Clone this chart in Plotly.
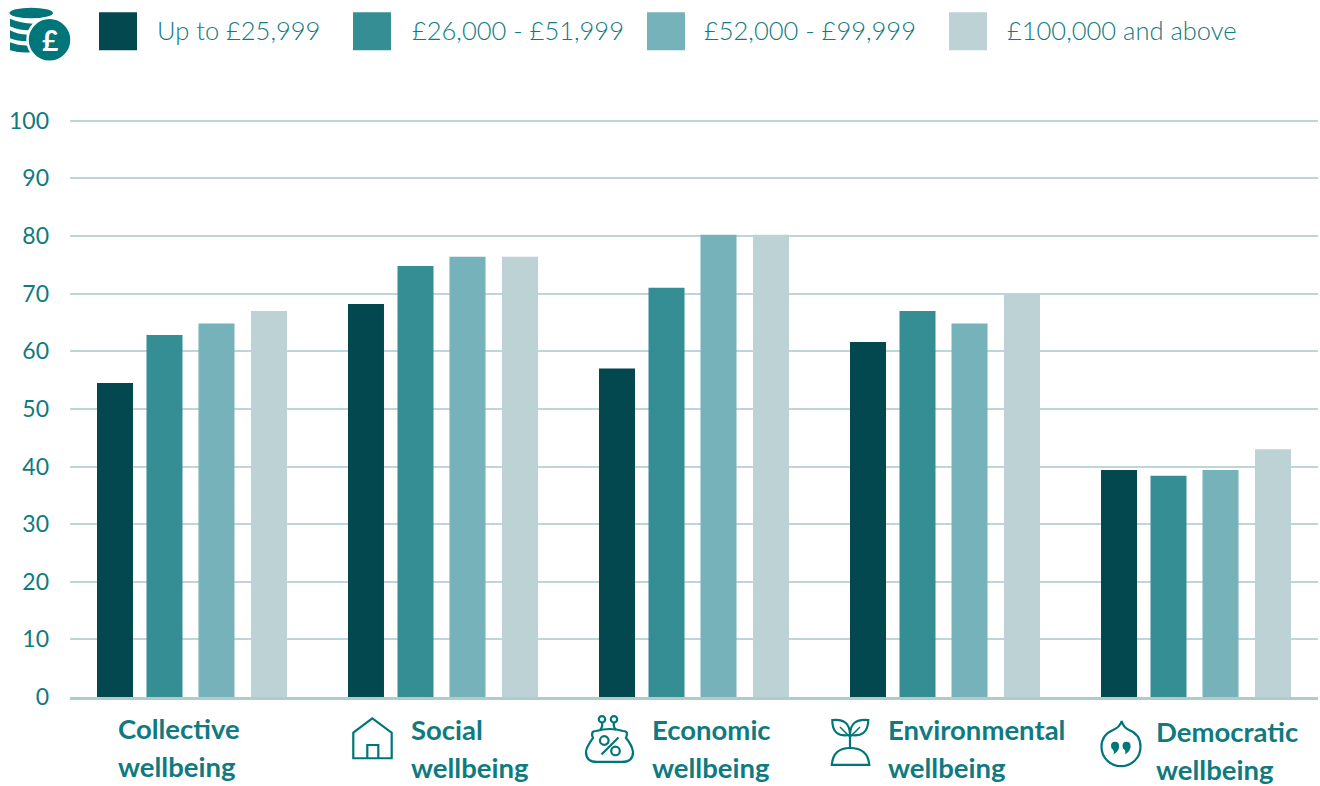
import re
import plotly.graph_objects as go

categories = ["Collective", "Social", "Economic", "Environmental", "Democratic"]
income_bands = ["Up to £25,999", "£26,000 - £51,999", "£52,000 - £99,999", "£100,000 and above"]
up_to_25999 = [54.5, 68.2, 57.0, 61.6, 39.4]
from_26000 = [62.8, 74.8, 71.0, 67.0, 38.4]
from_52000 = [64.8, 76.4, 80.2, 64.8, 39.4]
from_100000 = [67.0, 76.4, 80.2, 70.0, 43.0]
y_ticks = list(range(0, 101, 10))

series = [up_to_25999, from_26000, from_52000, from_100000]
colors = ["#03474F", "#358E94", "#76B2BA", "#BDD2D5"]
bar_offsets = [-95 / 251, -45.5 / 251, 6.5 / 251, 59 / 251]
bar_width = 36 / 251
TEAL = "#0F7A80"
ICON = "#00757A"
GRID = "#BFD6D8"
W, H = 1320, 786
LEFT, RIGHT, TOP, BOTTOM = 70, 1318, 114.74, 697


def fx(x):
    return (x - LEFT) / (RIGHT - LEFT)


def fy(y):
    return 1 - (y - TOP) / (BOTTOM - TOP)


def path(d, color=ICON, width=2.2, fill=None):
    # Convert a page-pixel path into paper coordinates
    it = iter(re.findall(r"[A-Za-z]|-?\d+\.?\d*", d))
    out = []
    for tok in it:
        if tok.isalpha():
            out.append(tok)
        else:
            out.append(f"{fx(float(tok)):.5f},{fy(float(next(it))):.5f}")
    return dict(type="path", xref="paper", yref="paper", path=" ".join(out),
                line=dict(color=color, width=width), fillcolor=fill or "rgba(0,0,0,0)")


def rect(x0, y0, x1, y1, fill):
    return dict(type="rect", xref="paper", yref="paper", x0=fx(x0), x1=fx(x1), y0=fy(y1), y1=fy(y0),
                line=dict(width=0), fillcolor=fill)


def circle(cx, cy, r, line=ICON, width=2.2, fill="rgba(0,0,0,0)"):
    return dict(type="circle", xref="paper", yref="paper", x0=fx(cx - r), x1=fx(cx + r),
                y0=fy(cy + r), y1=fy(cy - r), line=dict(color=line, width=width), fillcolor=fill)


fig = go.Figure()
for name, values, color, offset in zip(income_bands, series, colors, bar_offsets):
    fig.add_bar(x=categories, y=values, name=name, width=bar_width, offset=offset,
                marker=dict(color=color, line=dict(width=0)))

shapes = []
annotations = []

# Legend row: swatches and labels
for band, color, sx, tx in zip(income_bands, colors, [99, 353, 647, 949], [155, 410, 702, 1005]):
    shapes.append(rect(sx, 12, sx + 38, 50, color))
    annotations.append(dict(text=band, xref="paper", yref="paper", x=fx(tx), y=fy(30), xanchor="left",
                            yanchor="middle", showarrow=False,
                            font=dict(family="Lato", size=25.5, color=TEAL, weight=300)))

# Two-line wellbeing labels under each group
label_pos = [(116, 729), (409, 730), (650, 730), (886, 730), (1154, 732)]
for cat, (lx, ly) in zip(categories, label_pos):
    for text, yy in ((cat, ly), ("wellbeing", ly + 37.5)):
        annotations.append(dict(text=f"<b>{text}</b>", xref="paper", yref="paper", x=fx(lx), y=fy(yy),
                                xanchor="left", yanchor="middle", showarrow=False,
                                font=dict(family="Lato", size=27.5, color=TEAL)))

# Coin stack icon
shapes += [
    dict(type="circle", xref="paper", yref="paper", x0=fx(9.5), x1=fx(53), y0=fy(18), y1=fy(7.5),
         line=dict(width=0), fillcolor=ICON),
    path("M10 18.5 Q20 23 34 23.5 L34 26 Q30 28 29 30 Q18 30 10 26 Z", width=0, fill=ICON),
    path("M10 30 Q17 34 28 34.5 Q27 38 27 41 Q17 41 10 38 Z", width=0, fill=ICON),
    path("M10 42 Q17 45 28 45.5 Q29 49 31 52 Q20 53 10 50 Z", width=0, fill=ICON),
    circle(49.5, 39.5, 22, line="#FFFFFF", width=2.5, fill=ICON),
]
annotations.append(dict(text="<b>£</b>", xref="paper", yref="paper", x=fx(49.5), y=fy(39.5), xanchor="center",
                        yanchor="middle", showarrow=False, font=dict(family="Lato", size=28, color="#FFFFFF")))

# House icon
shapes += [
    path("M353.3 732.7 L372.3 718.3 L391.7 732.7 L391.7 758.3 L353.3 758.3 Z"),
    path("M367.3 758.3 L367.3 745 L378.3 745 L378.3 758.3"),
]

# Purse icon
shapes += [
    circle(602, 719.3, 3.2), circle(614, 719.3, 3.2),
    path("M602 722.5 Q603 727 600 730 M614 722.5 Q613 727 616 730"),
    path("M596 731 Q590 731 593 738 Q586 748 586 752 Q586 762 597 762 L622 762 Q633 762 633 752 Q632 745 626 738 Q629 731 623 731 Q610 727 596 731 Z"),
    circle(604.3, 740.5, 4.3), circle(615.5, 751, 4.3),
    path("M601.5 754.5 L618.5 737.5"),
]

# Seedling icon
shapes += [
    path("M831.8 765 Q833 748 850 748 Q868 748 869.3 765 Z"),
    path("M850 748 L850 735"),
    path("M850 735 Q832 738 832.3 720 Q850 718 850 735 Z"),
    path("M850 735 Q868 738 868.3 720 Q850 718 850 735 Z"),
    path("M840 727 L850 737 M860 727 L850 737", width=1.5),
]

# Speech-drop icon
shapes += [
    path("M1121.7 721 Q1123 727 1129 730 C1137 733 1140.5 739 1140.5 746.7 C1140.5 757.5 1132 766.2 1121 766.2 "
         "C1110 766.2 1101.5 757.5 1101.5 746.7 C1101.5 739 1106 733 1113 730 Q1120 727 1121.7 721 Z"),
    circle(1115, 745.7, 4, width=0, fill=ICON), circle(1126.5, 745.7, 4, width=0, fill=ICON),
    path("M1119 746 Q1119 751.5 1113.5 754.5 Q1115 751 1111.5 748 Z", width=0, fill=ICON),
    path("M1130.5 746 Q1130.5 751.5 1125 754.5 Q1126.5 751 1123 748 Z", width=0, fill=ICON),
]

fig.update_layout(
    width=W, height=H, autosize=False,
    margin=dict(l=LEFT, r=W - RIGHT, t=TOP, b=H - BOTTOM, pad=0),
    plot_bgcolor="#FFFFFF", paper_bgcolor="#FFFFFF",
    barmode="overlay",
    showlegend=False, shapes=shapes, annotations=annotations,
    xaxis=dict(type="category", range=[-0.486, 4.486], showticklabels=False, ticks="",
               showgrid=False, zeroline=False, showline=True, linecolor="#AECCCE", linewidth=3),
    yaxis=dict(range=[0, 101], tickmode="array", tickvals=y_ticks, ticks="", showline=False, zeroline=False,
               showgrid=True, gridcolor=GRID, gridwidth=2, ticklabelstandoff=20,
               tickfont=dict(family="Lato", size=23, color=TEAL, weight=400)),
)

fig.write_html("out.html")
